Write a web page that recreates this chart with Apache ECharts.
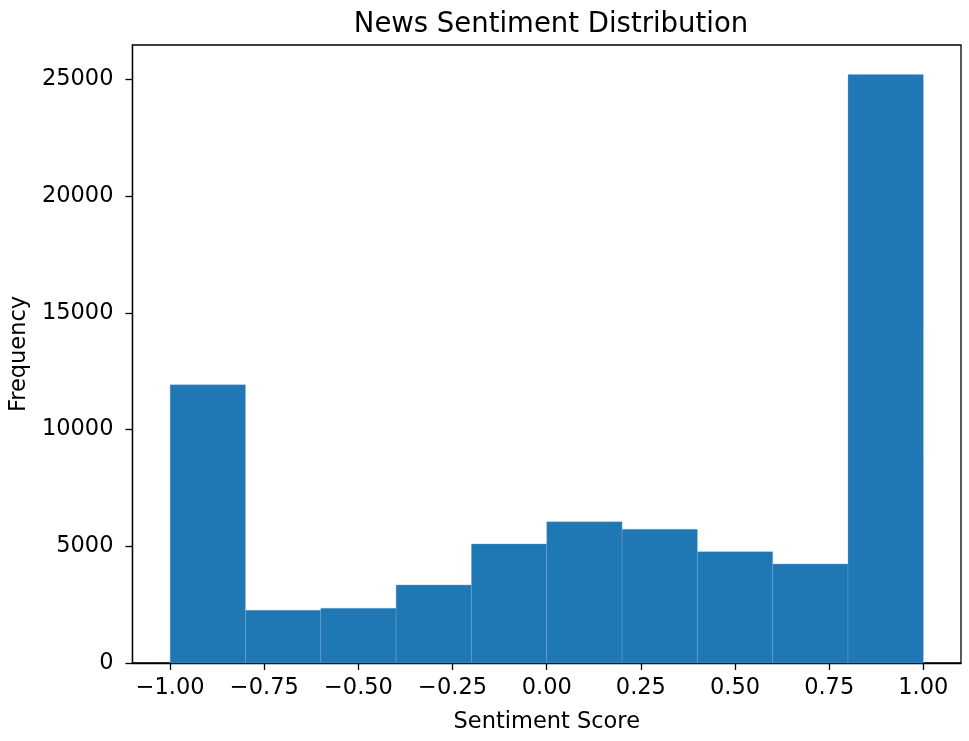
<!DOCTYPE html>
<html>
<head>
<meta charset="utf-8">
<script src="https://cdn.jsdelivr.net/npm/echarts@6/dist/echarts.min.js"></script>
<style>
html,body{margin:0;padding:0;background:#fff;}
#chart{width:969px;height:741px;}
</style>
</head>
<body>
<div id="chart"></div>
<script>
const titleText = 'News Sentiment Distribution';
const xLabel = 'Sentiment Score';
const yLabel = 'Frequency';
const binStarts = [-1.0, -0.8, -0.6, -0.4, -0.2, 0.0, 0.2, 0.4, 0.6, 0.8];
const binEnds = [-0.8, -0.6, -0.4, -0.2, 0.0, 0.2, 0.4, 0.6, 0.8, 1.0];
const counts = [11920, 2260, 2345, 3345, 5100, 6045, 5730, 4770, 4245, 25210];
const xTicks = [-1.0, -0.75, -0.5, -0.25, 0.0, 0.25, 0.5, 0.75, 1.0];
const yTicks = [0, 5000, 10000, 15000, 20000, 25000];

const data = binStarts.map((s, i) => [s, binEnds[i], counts[i]]);
const yMax = Math.max(...counts) * 1.05;

const chart = echarts.init(document.getElementById('chart'), null, {renderer: 'canvas'});
const font = 'DejaVu Sans';
chart.setOption({
  animation: false,
  backgroundColor: '#fff',
  title: {
    text: titleText,
    left: 546, top: 6, textAlign: 'center',
    textStyle: {fontFamily: font, fontSize: 27.5, fontWeight: 'normal', color: '#000'}
  },
  grid: {
    left: 132, right: 8, top: 45, bottom: 78,
    show: true, borderColor: '#000', borderWidth: 1.3, backgroundColor: 'transparent'
  },
  xAxis: {
    type: 'value', min: -1.1, max: 1.1,
    splitLine: {show: false},
    axisLine: {show: true, onZero: false, lineStyle: {color: '#000', width: 1.3}},
    axisTick: {show: true, length: 7, lineStyle: {color: '#000', width: 1.3}, customValues: xTicks},
    axisLabel: {
      customValues: xTicks, margin: 14, color: '#000', fontFamily: font, fontSize: 22.5,
      formatter: v => (v < 0 ? '\u2212' : '') + Math.abs(v).toFixed(2)
    },
    name: xLabel, nameLocation: 'middle', nameGap: 48,
    nameTextStyle: {fontFamily: font, fontSize: 22.5, color: '#000'}
  },
  yAxis: {
    type: 'value', min: 0, max: yMax,
    splitLine: {show: false},
    axisLine: {show: true, onZero: false, lineStyle: {color: '#000', width: 1.3}},
    axisTick: {show: true, length: 7, lineStyle: {color: '#000', width: 1.3}, customValues: yTicks},
    axisLabel: {
      customValues: yTicks, margin: 19, color: '#000', fontFamily: font, fontSize: 22.5,
      formatter: v => String(v)
    },
    name: yLabel, nameLocation: 'middle', nameGap: 98,
    nameTextStyle: {fontFamily: font, fontSize: 22.5, color: '#000'}
  },
  series: [{
    type: 'custom',
    data: data,
    encode: {x: [0, 1], y: 2},
    renderItem: function (params, api) {
      const p0 = api.coord([api.value(0), api.value(2)]);
      const p1 = api.coord([api.value(1), 0]);
      return {
        type: 'rect',
        shape: {x: p0[0], y: p0[1], width: p1[0] - p0[0], height: p1[1] - p0[1]},
        style: {fill: '#1f77b4', stroke: 'rgba(120,170,215,0.6)', lineWidth: 0.6}
      };
    }
  }]
});
</script>
</body>
</html>
